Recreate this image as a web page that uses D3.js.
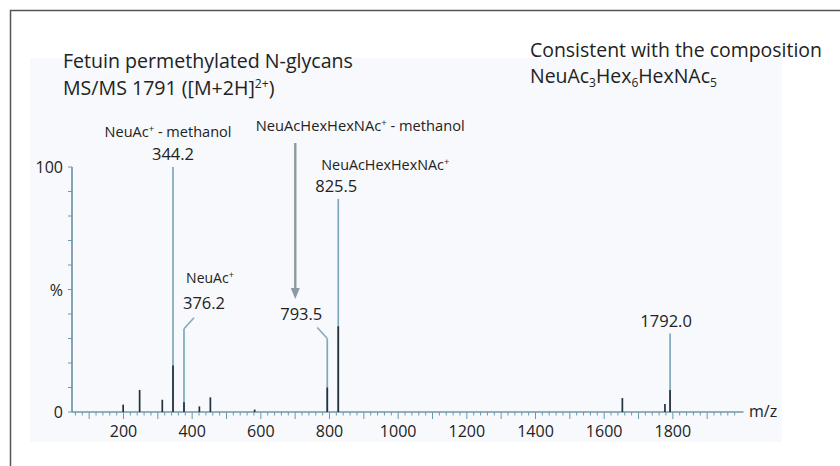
<!DOCTYPE html>
<html>
<head>
<meta charset="utf-8">
<script src="https://cdn.jsdelivr.net/npm/d3@7"></script>
<style>
  body { margin: 0; background: #fff; }
  svg { display: block; font-family: "Open Sans", "Noto Sans", sans-serif; }
</style>
</head>
<body>
<svg id="chart" width="840" height="466"></svg>
<script>
// spectrum peaks: m/z, relative intensity (%), dark core of the trace (%)
const peakMz   = [199, 247, 313, 344.2, 376.2, 421, 453, 582, 793.5, 825.5, 1653, 1777, 1792.0];
const peakPct  = [3,   9,   5,   100,   34,    2.3, 6,   1,   30,    87,    5.7,  3.3,  32];
const corePct  = [3,   9,   5,   19,    4,     2.3, 6,   1,   10,    35,    5.7,  3.3,  9];

const xTickLabels = [200, 400, 600, 800, 1000, 1200, 1400, 1600, 1800];
const yTickLabels = ["0", "%", "100"];

const titleLeft = ["Fetuin permethylated N-glycans", "MS/MS 1791 ([M+2H]", "2+", ")"];
const titleRight = ["Consistent with the composition"];
const composition = [["NeuAc", "3"], ["Hex", "6"], ["HexNAc", "5"]];

const peakLabels = ["344.2", "376.2", "793.5", "825.5", "1792.0"];

const width = 840, height = 466;
const svg = d3.select("#chart");

// frame + pale plot background
svg.append("rect").attr("x", 30).attr("y", 58).attr("width", 752).attr("height", 384)
  .attr("fill", "#f7f9fc");
svg.append("path").attr("d", "M10.5,466 V10.5 H840")
  .attr("fill", "none").attr("stroke", "#555").attr("stroke-width", 1.5);

const x = d3.scaleLinear().domain([50, 2000]).range([72, 741.5]);
const y = d3.scaleLinear().domain([0, 100]).range([412, 167]);

const axisColor = "#6f97aa";
const lightPeak = "#7ea8bd";
const darkPeak = "#22323a";

// shrink/grow a text node's font so its width matches the reference
function fit(sel, w) {
  const n = sel.node(), fs = parseFloat(sel.attr("font-size"));
  sel.attr("font-size", (fs * w / n.getComputedTextLength()).toFixed(2));
  return sel;
}

// x axis: minor ticks every 20, major every 100, labels every 200
const gx = svg.append("g");
gx.append("line").attr("x1", x(50)).attr("x2", x(2000) + 2).attr("y1", y(0)).attr("y2", y(0))
  .attr("stroke", axisColor).attr("stroke-width", 1.7);
gx.selectAll("line.minor").data(d3.range(60, 2000, 20)).join("line")
  .attr("class", "minor")
  .attr("x1", d => x(d)).attr("x2", d => x(d))
  .attr("y1", y(0)).attr("y2", d => y(0) + (d % 100 === 0 ? 7 : 3.5))
  .attr("stroke", axisColor).attr("stroke-width", 1);
gx.selectAll("text").data(xTickLabels).join("text")
  .attr("x", d => x(d)).attr("y", 437)
  .attr("text-anchor", "middle")
  .attr("font-size", 16).attr("fill", "#222")
  .text(d => d);
svg.append("text").attr("x", 749).attr("y", 417).attr("font-size", 16).attr("fill", "#222").text("m/z");

// y axis: ticks every 10 %
const gy = svg.append("g");
gy.append("line").attr("x1", x(50)).attr("x2", x(50)).attr("y1", y(0)).attr("y2", y(100))
  .attr("stroke", axisColor).attr("stroke-width", 1.7);
gy.selectAll("line.t").data(d3.range(0, 101, 10)).join("line")
  .attr("class", "t")
  .attr("x1", x(50) - 4).attr("x2", x(50)).attr("y1", d => y(d)).attr("y2", d => y(d))
  .attr("stroke", axisColor).attr("stroke-width", 1);
gy.selectAll("text").data(yTickLabels).join("text")
  .attr("x", 63).attr("y", (d, i) => y(i * 50) + 6)
  .attr("text-anchor", "end").attr("font-size", 16).attr("fill", "#222")
  .text(d => d);

// peaks
const peaks = peakMz.map((m, i) => ({ mz: m, pct: peakPct[i], core: corePct[i] }));
svg.append("g").selectAll("line").data(peaks).join("line")
  .attr("x1", d => x(d.mz)).attr("x2", d => x(d.mz))
  .attr("y1", y(0)).attr("y2", d => y(d.pct))
  .attr("stroke", d => d.pct > d.core ? lightPeak : darkPeak).attr("stroke-width", 1.7);
svg.append("g").selectAll("line").data(peaks.filter(d => d.pct > d.core)).join("line")
  .attr("x1", d => x(d.mz)).attr("x2", d => x(d.mz))
  .attr("y1", y(0)).attr("y2", d => y(d.core))
  .attr("stroke", darkPeak).attr("stroke-width", 1.7);

// titles
const tl1 = svg.append("text").attr("x", 63).attr("y", 68).attr("font-size", 18).attr("fill", "#222")
  .text(titleLeft[0]);
fit(tl1, 290);
const tl2 = svg.append("text").attr("x", 63).attr("y", 95).attr("font-size", tl1.attr("font-size")).attr("fill", "#222");
tl2.append("tspan").text(titleLeft[1]);
tl2.append("tspan").attr("font-size", "0.62em").attr("dy", -7).text(titleLeft[2]);
tl2.append("tspan").attr("dy", 7).text(titleLeft[3]);

const tr1 = svg.append("text").attr("x", 530).attr("y", 57).attr("font-size", 18).attr("fill", "#222")
  .text(titleRight[0]);
fit(tr1, 292);
const tr2 = svg.append("text").attr("x", 530).attr("y", 83).attr("font-size", tr1.attr("font-size")).attr("fill", "#222");
composition.forEach(([name, n], i) => {
  tr2.append("tspan").attr("dy", i === 0 ? 0 : -4).text(name);
  tr2.append("tspan").attr("font-size", "0.62em").attr("dy", 4).text(n);
});

// annotation helpers
function ionLabel(cx, by, main, suffix, w) {
  const t = svg.append("text").attr("x", cx).attr("y", by).attr("text-anchor", "middle")
    .attr("font-size", 14).attr("fill", "#222");
  t.append("tspan").text(main);
  t.append("tspan").attr("font-size", "0.65em").attr("dy", -5).text("+");
  if (suffix) t.append("tspan").attr("dy", 5).text(suffix);
  if (w) fit(t, w);
}
function mzLabel(cx, by, txt) {
  svg.append("text").attr("x", cx).attr("y", by).attr("text-anchor", "middle")
    .attr("font-size", 16.5).attr("fill", "#222").text(txt);
}

const leader = "#8aaabb";
// 344.2
ionLabel(x(344.2) - 5, 137, "NeuAc", " - methanol", 127);
mzLabel(x(344.2), 160, peakLabels[0]);
// 376.2
ionLabel(x(376.2) + 26, 283, "NeuAc");
mzLabel(x(376.2) + 20, 309, peakLabels[1]);
svg.append("path")
  .attr("d", `M${x(376.2)},${y(34)} L${x(376.2) + 10},${y(34) - 11}`)
  .attr("fill", "none").attr("stroke", leader).attr("stroke-width", 1.7);
// 793.5
mzLabel(x(793.5) - 26, 320, peakLabels[2]);
svg.append("path")
  .attr("d", `M${x(793.5)},${y(30)} L${x(793.5) - 10},${y(30) - 11}`)
  .attr("fill", "none").attr("stroke", leader).attr("stroke-width", 1.7);
ionLabel(x(793.5) + 33, 131, "NeuAcHexHexNAc", " - methanol", 209);
// arrow
const ax = x(793.5) - 32;
svg.append("line").attr("x1", ax).attr("x2", ax).attr("y1", 143).attr("y2", 291)
  .attr("stroke", "#8c9ba2").attr("stroke-width", 2.4);
svg.append("path").attr("d", `M${ax - 4.5},288 L${ax + 4.5},288 L${ax},299 Z`).attr("fill", "#8c9ba2");
// 825.5
ionLabel(x(825.5) + 47, 170, "NeuAcHexHexNAc", null, 128);
mzLabel(x(825.5) - 2, 192, peakLabels[3]);
// 1792.0
mzLabel(x(1792) - 4, 327, peakLabels[4]);
</script>
</body>
</html>
